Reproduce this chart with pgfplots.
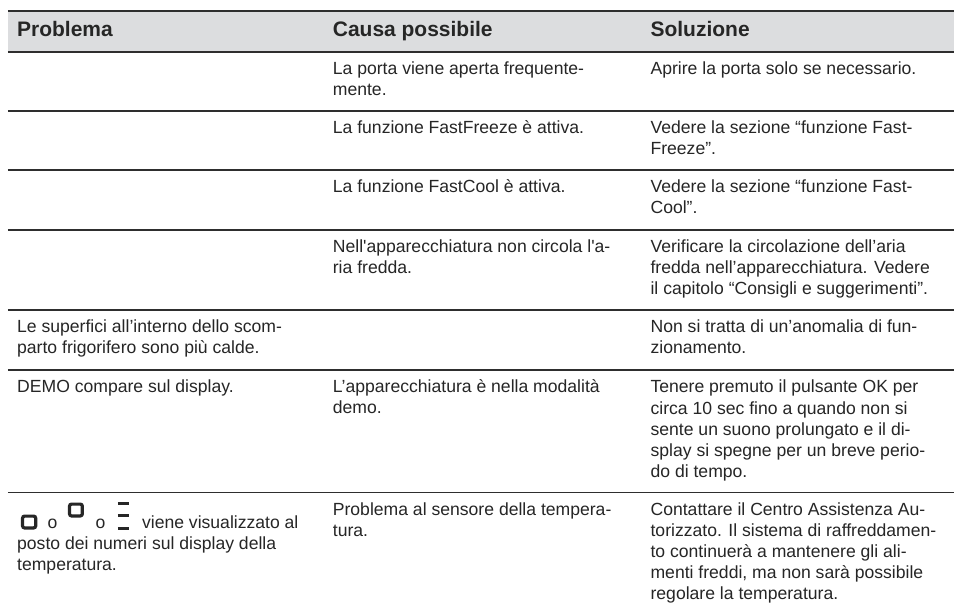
\documentclass[border=0pt]{standalone}
\usepackage{fontspec}
\newfontfamily\lib{Liberation Sans}
\usepackage{pgfplots}
\pgfplotsset{compat=1.18}
\definecolor{txt}{HTML}{262626}
\definecolor{band}{HTML}{DCDDDF}
\definecolor{rule}{HTML}{2E2E2E}
\newcommand{\T}[3]{\node[anchor=base west,inner sep=0pt,text=txt,font=\lib\fontsize{17.6}{21}\selectfont] at (axis cs:#1,#2) {#3};}
\newcommand{\B}[3]{\node[anchor=base west,inner sep=0pt,text=txt,font=\lib\bfseries\fontsize{21}{25}\selectfont] at (axis cs:#1,#2) {#3};}
\begin{document}
\begin{tikzpicture}
\begin{axis}[
  scale only axis, width=955pt, height=613pt,
  xmin=0, xmax=955, ymin=0, ymax=613, y dir=reverse,
  hide axis, clip=false, axis on top=false]
\fill[white] (axis cs:0,0) rectangle (axis cs:955,613);
\addplot[draw=none, fill=band, forget plot] coordinates {(8,11) (955,11) (955,52) (8,52)} --cycle;
\pgfplotsinvokeforeach{11,52,111,170,230,310,370,493}{
  \addplot[rule, line width=1.8pt, forget plot] coordinates {(8,#1) (955,#1)};
}
\B{17}{37}{Problema}
\B{333}{37}{Causa possibile}
\B{651}{37}{Soluzione}
\T{333}{75}{La porta viene aperta frequente-}
\T{333}{96}{mente.}
\T{651}{75}{Aprire la porta solo se necessario.}
\T{333}{134}{La funzione FastFreeze è attiva.}
\T{651}{134}{Vedere la sezione “funzione Fast-}
\T{651}{155}{Freeze”.}
\T{333}{193}{La funzione FastCool è attiva.}
\T{651}{193}{Vedere la sezione “funzione Fast-}
\T{651}{214}{Cool”.}
\T{333}{253}{Nell'apparecchiatura non circola l'a-}
\T{333}{274}{ria fredda.}
\T{651}{253}{Verificare la circolazione dell’aria}
\T{651}{274}{fredda nell’apparecchiatura. Vedere}
\T{651}{295}{il capitolo “Consigli e suggerimenti”.}
\T{17}{333}{Le superfici all’interno dello scom-}
\T{17}{354}{parto frigorifero sono più calde.}
\T{651}{333}{Non si tratta di un’anomalia di fun-}
\T{651}{354}{zionamento.}
\T{17}{393}{DEMO compare sul display.}
\T{333}{393}{L’apparecchiatura è nella modalità}
\T{333}{414}{demo.}
\T{651}{393}{Tenere premuto il pulsante OK per}
\T{651}{415}{circa 10 sec fino a quando non si}
\T{651}{436}{sente un suono prolungato e il di-}
\T{651}{457}{splay si spegne per un breve perio-}
\T{651}{478}{do di tempo.}
\T{47.5}{529}{o}
\T{95.5}{529}{o}
\T{142}{529}{viene visualizzato al}
\T{17}{550}{posto dei numeri sul display della}
\T{17}{571}{temperatura.}
\T{333}{516}{Problema al sensore della tempera-}
\T{333}{537}{tura.}
\T{651}{516}{Contattare il Centro Assistenza Au-}
\T{651}{537}{torizzato. Il sistema di raffreddamen-}
\T{651}{558}{to continuerà a mantenere gli ali-}
\T{651}{579}{menti freddi, ma non sarà possibile}
\T{651}{600}{regolare la temperatura.}
\draw[txt, line width=3.2pt, rounded corners=2pt] (axis cs:22.6,516.6) rectangle (axis cs:35.7,528.4);
\draw[txt, line width=3.2pt, rounded corners=2pt] (axis cs:69.6,504.6) rectangle (axis cs:82.4,516.4);
\addplot[txt, line width=2.6pt, forget plot] coordinates {(118,504) (129,504)};
\addplot[txt, line width=2.6pt, forget plot] coordinates {(118,516) (129,516)};
\addplot[txt, line width=2.6pt, forget plot] coordinates {(118,529) (129,529)};
\end{axis}
\end{tikzpicture}
\end{document}
